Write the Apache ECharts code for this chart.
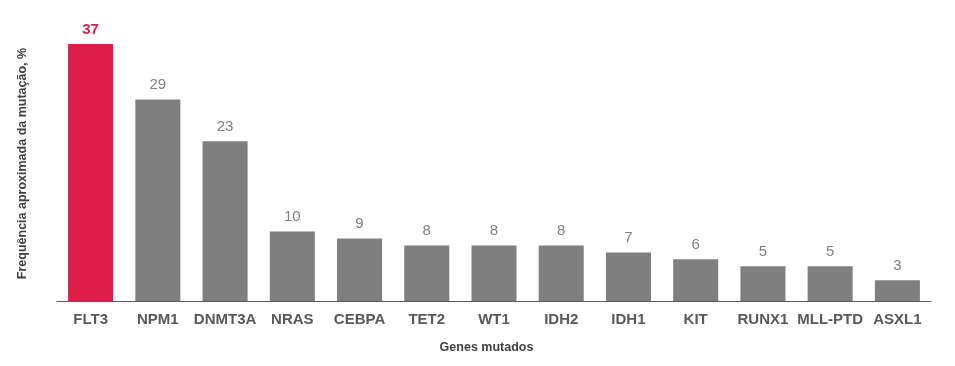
<!DOCTYPE html>
<html><head><meta charset="utf-8">
<script src="https://cdn.jsdelivr.net/npm/echarts@6/dist/echarts.min.js"></script>
<style>html,body{margin:0;padding:0;background:#fff}#c{width:955px;height:366px}</style>
</head><body><div id="c"></div>
<script>
const categories = ['FLT3','NPM1','DNMT3A','NRAS','CEBPA','TET2','WT1','IDH2','IDH1','KIT','RUNX1','MLL-PTD','ASXL1'];
const values = [37,29,23,10,9,8,8,8,7,6,5,5,3];
const highlight = 'FLT3';
const xName = 'Genes mutados';
const yName = 'Frequência aproximada da mutação, %';

const RED = '#dc1e48', GRAY = '#7f7f7f';
const data = values.map((v,i)=>{
  const hl = categories[i]===highlight;
  return {value:v, itemStyle:{color: hl?RED:GRAY},
    label:{color: hl?RED:'#7f7f7f', fontWeight: hl?'bold':'normal'}};
});
const chart = echarts.init(document.getElementById('c'), null, {renderer:'canvas'});
chart.setOption({
  animation:false,
  grid:{left:57,right:24,top:44,bottom:65},
  xAxis:{type:'category',data:categories,
    name:xName,nameLocation:'middle',nameGap:40,
    nameTextStyle:{fontFamily:'Liberation Sans',fontSize:12.5,fontWeight:'bold',color:'#404040',padding:[0,15,0,0]},
    axisLine:{lineStyle:{color:'#595959',width:1}},axisTick:{show:false},
    axisLabel:{fontFamily:'Liberation Sans',fontSize:15,fontWeight:'bold',color:'#595959',margin:11,interval:0}},
  yAxis:{type:'value',min:0,max:37,show:true,
    name:yName,nameLocation:'middle',nameGap:28,nameRotate:90,
    nameTextStyle:{fontFamily:'Liberation Sans',fontSize:12.5,fontWeight:'bold',color:'#404040',padding:[0,0,0,18]},
    axisLine:{show:false},axisTick:{show:false},axisLabel:{show:false},splitLine:{show:false}},
  series:[{type:'bar',data:data,barWidth:'67%',
    label:{show:true,position:'top',distance:7,fontFamily:'Liberation Sans',fontSize:15}}]
});
</script></body></html>
